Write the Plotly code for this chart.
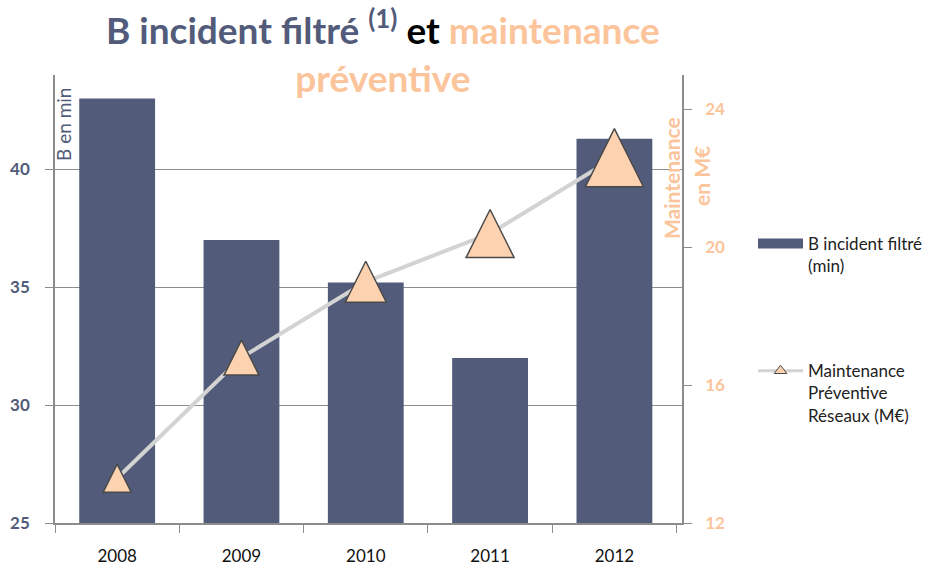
import plotly.graph_objects as go

years = ["2008", "2009", "2010", "2011", "2012"]
b_incident = [43.0, 37.0, 35.2, 32.0, 41.3]
maintenance = [13.3, 16.8, 19.0, 20.4, 22.6]
marker_sizes = [28, 35, 41, 48, 58]

left_ticks = [25, 30, 35, 40]
right_ticks = [12, 16, 20, 24]

BLUE = "#525c7a"
PEACH = "#fbc49a"
TRI_FILL = "#fdd2b0"
TRI_LINE = "#4a4a4a"
FONT = "Lato"

W, H = 949, 567
ML, MR, MT, MB = 55, 267, 75, 44
PW, PH = W - ML - MR, H - MT - MB


def px_x(px):
    return (px - ML) / PW


def px_y(py):
    return (H - MB - py) / PH


fig = go.Figure()

fig.add_bar(
    x=years, y=b_incident, yaxis="y",
    name="B incident filtré<br>(min)",
    marker=dict(color=BLUE, line=dict(width=0)),
    showlegend=False,
)

fig.add_scatter(
    x=years, y=maintenance, yaxis="y2", mode="lines",
    line=dict(color="#d3d3d3", width=4),
    showlegend=False, hoverinfo="skip",
)

fig.add_scatter(
    x=years, y=maintenance, yaxis="y2", mode="markers",
    marker=dict(
        symbol="arrow-down", angle=180,
        standoff=[s / 2 for s in marker_sizes],
        size=marker_sizes, color=TRI_FILL, opacity=1,
        line=dict(color=TRI_LINE, width=1.5),
    ),
    showlegend=False,
)

# legend entries
fig.add_scatter(
    x=[None], y=[None], yaxis="y", mode="lines",
    name="B incident filtré<br>(min)",
    line=dict(color=BLUE, width=11),
    legendgroup="a",
)
fig.add_scatter(
    x=[None], y=[None], yaxis="y2", mode="lines+markers",
    name="Maintenance<br>Préventive<br>Réseaux (M€)",
    line=dict(color="#d3d3d3", width=3),
    marker=dict(symbol="triangle-up", size=11, color=TRI_FILL, opacity=1,
                line=dict(color=TRI_LINE, width=1)),
    legendgroup="b",
)

title_text = (
    f'<b><span style="color:{BLUE}">B incident filtré <sup>(1)</sup></span> et '
    f'<span style="color:{PEACH}">maintenance</span><br>'
    f'<span style="color:{PEACH}">préventive</span></b>'
)

fig.update_layout(
    width=W, height=H,
    margin=dict(l=ML, r=MR, t=MT, b=MB, autoexpand=False),
    paper_bgcolor="white", plot_bgcolor="white",
    font=dict(family=FONT, color="#222222"),
    bargap=0.39,
    xaxis=dict(
        type="category", tickson="boundaries", ticks="outside", ticklen=8,
        tickcolor="#8c8c8c", showline=True, linecolor="#8c8c8c", linewidth=1.5,
        showgrid=False, tickfont=dict(family=FONT, size=17, color="#111111"),
        ticklabelstandoff=17,
    ),
    yaxis=dict(
        range=[25, 44], tickvals=left_ticks, showgrid=True, gridcolor="#8c8c8c",
        gridwidth=1, showline=True, linecolor="#8c8c8c", linewidth=1.5,
        ticks="outside", ticklen=8, tickcolor="#8c8c8c", zeroline=False,
        tickfont=dict(family=FONT, size=17, weight="bold", color=BLUE),
        ticklabelstandoff=12,
    ),
    yaxis2=dict(
        range=[12, 25], tickvals=right_ticks, overlaying="y", side="right",
        showgrid=False, showline=True, linecolor="#8c8c8c", linewidth=1.5,
        ticks="outside", ticklen=8, tickcolor="#8c8c8c", zeroline=False,
        tickfont=dict(family=FONT, size=17, weight="bold", color=PEACH),
        ticklabelstandoff=10,
    ),
    legend=dict(
        xref="container", yref="container", x=753 / W, y=1 - 226 / H,
        xanchor="left", yanchor="top", valign="top", itemwidth=45,
        font=dict(family=FONT, size=17, color="#222222"),
        traceorder="grouped", tracegroupgap=80, bgcolor="rgba(0,0,0,0)",
    ),
    annotations=[
        dict(text=title_text, xref="paper", yref="paper",
             x=px_x(383), y=px_y(0), xanchor="center", yanchor="top",
             showarrow=False, align="center",
             font=dict(family=FONT, size=37, color="black")),
        dict(text="B en min", xref="paper", yref="paper",
             x=px_x(63), y=px_y(125),
             textangle=-90, showarrow=False, xanchor="center", yanchor="middle",
             font=dict(family=FONT, size=19, color=BLUE)),
        dict(text="Maintenance", xref="paper", yref="paper",
             x=px_x(671), y=px_y(178),
             textangle=-90, showarrow=False, xanchor="center", yanchor="middle",
             font=dict(family=FONT, size=21, weight="bold", color=PEACH)),
        dict(text="en M€", xref="paper", yref="paper",
             x=px_x(701), y=px_y(176),
             textangle=-90, showarrow=False, xanchor="center", yanchor="middle",
             font=dict(family=FONT, size=21, weight="bold", color=PEACH)),
    ],
)

fig.write_html("out.html", config={"displayModeBar": False},
               post_script="document.body.style.margin='0';")
